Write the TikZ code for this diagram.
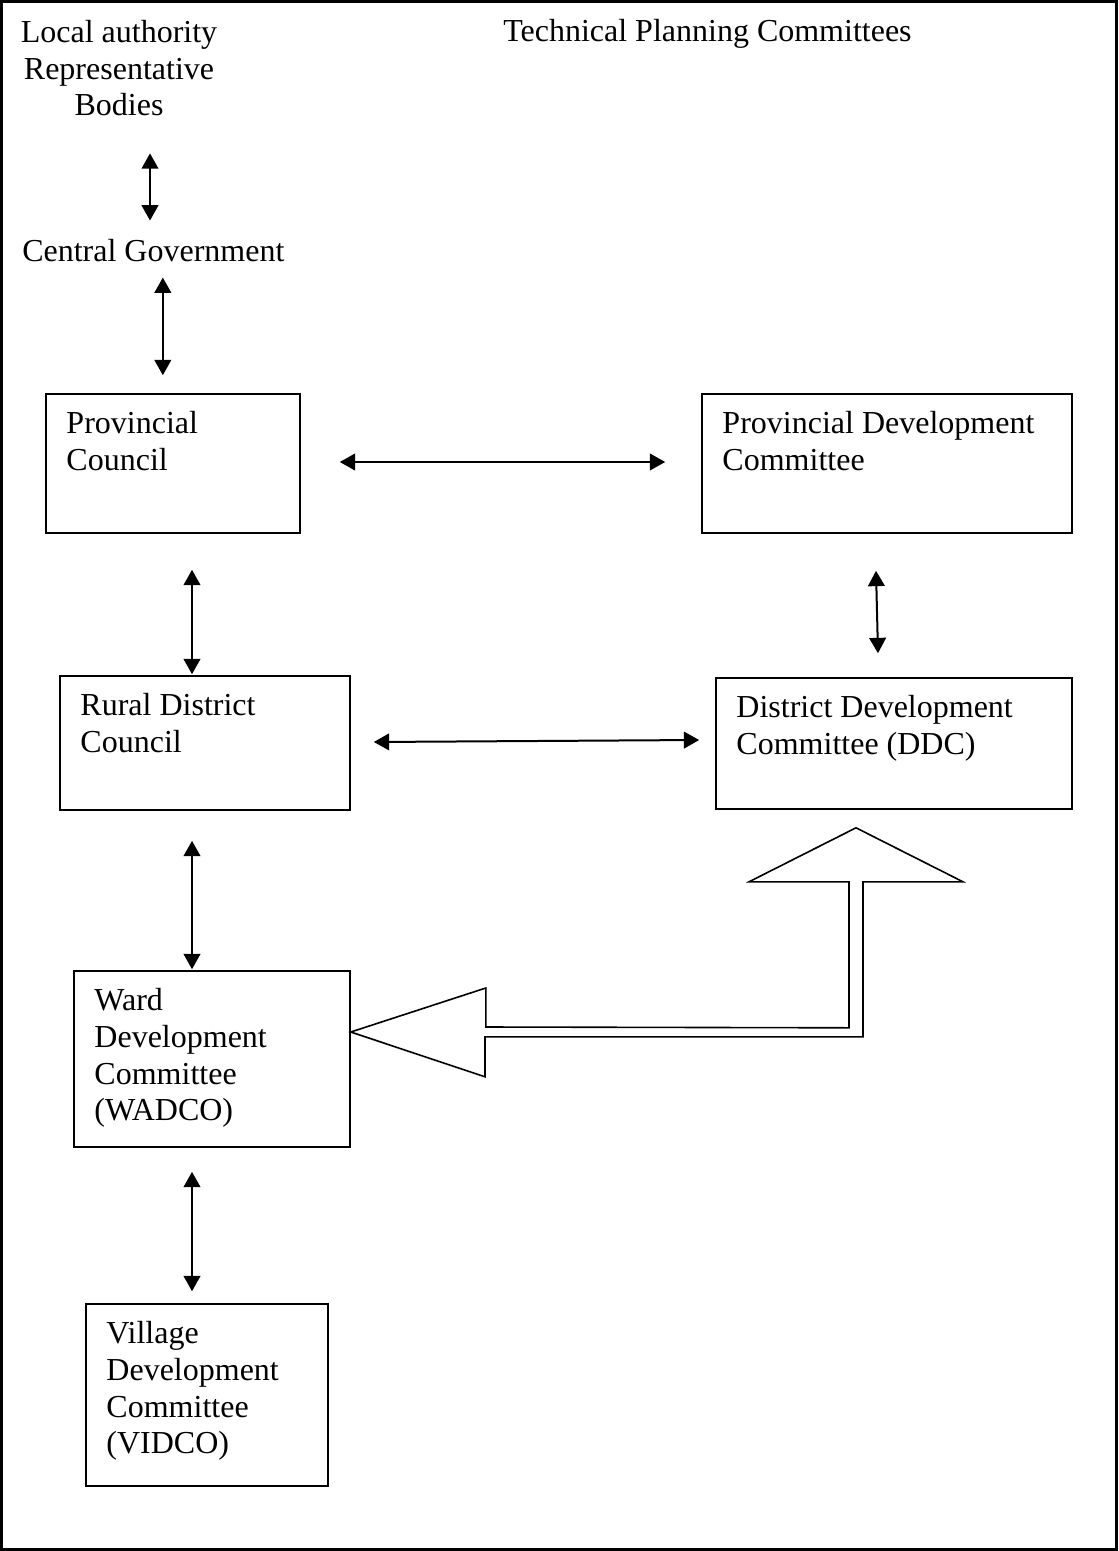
\documentclass[tikz,border=0pt]{standalone}
\usepackage{fontspec}
\setmainfont{Liberation Serif}
\usetikzlibrary{arrows.meta,calc}
\newcommand\txtfont{\fontsize{24}{27.5}\selectfont}
\begin{document}
\begin{tikzpicture}[x=0.75pt,y=-0.75pt,
  txt/.style={inner sep=0pt,font=\txtfont},
  box/.style={draw,line width=1.2pt,inner sep=0pt},
  lbl/.style={anchor=north west,inner sep=0pt,align=left,font=\txtfont,xshift=15.75pt,yshift=-13.5pt},
  link/.style={{Triangle[length=11.5pt,width=12.5pt]}-{Triangle[length=11.5pt,width=12.5pt]},line width=1.5pt},
  hollow/.style={line width=1.2pt,line join=miter}]
\useasboundingbox (0,0) rectangle (1118,1551);
\draw [line width=1.8pt] (1.5,1.5) rectangle (1116.5,1549.5);

\node [txt,anchor=north,align=center] (lab) at (119,20) {Local authority\\Representative\\Bodies};
\node [txt,anchor=base west] (tpc) at (503,42) {Technical Planning Committees};
\node [txt,anchor=base west] (cg) at (22,262) {Central Government};

\node [box,minimum width=190.5pt,minimum height=104.25pt,label={[lbl,name=pcl]north west:{Provincial\\Council}}] (pc) at (173,463.5) {};
\node [box,minimum width=277.5pt,minimum height=104.25pt,label={[lbl,name=pdcl]north west:{Provincial Development\\Committee}}] (pdc) at (887,463.5) {};
\node [box,minimum width=217.5pt,minimum height=100.5pt,label={[lbl,name=rdcl]north west:{Rural District\\Council}}] (rdc) at (205,743) {};
\node [box,minimum width=267pt,minimum height=98.25pt,label={[lbl,name=ddcl]north west:{District Development\\Committee (DDC)}}] (ddc) at (894,743.5) {};
\node [box,minimum width=207pt,minimum height=132pt,label={[lbl,name=wadcol]north west:{Ward\\Development\\Committee\\(WADCO)}}] (wadco) at (212,1059) {};
\node [box,minimum width=181.5pt,minimum height=136.5pt,label={[lbl,name=vidcol]north west:{Village\\Development\\Committee\\(VIDCO)}}] (vidco) at (207,1395) {};

\coordinate (a1) at ($(lab.south)+(31,37)$);
\coordinate (a2) at ($(cg.south)+(9.5,15)$);
\draw [link] (a1) -- ($(a1 |- cg.north)+(0,-19)$);
\draw [link] (a2) -- ($(a2 |- pc.north)+(0,-18)$);
\draw [link] ($(pc.east)+(39,-1.5)$) -- ($(pdc.west)+(-36,-1.5)$);
\draw [link] ($(pc.south)+(19,36)$) -- ($(rdc.north)+(-13,-1)$);
\draw [link] ($(pdc.south)+(-11,37)$) -- ($(ddc.north)+(-16,-24)$);
\draw [link] ($(rdc.east)+(23,-1)$) -- ($(ddc.west)+(-16,-3.5)$);
\draw [link] ($(rdc.south)+(-13,30)$) -- ($(wadco.north)+(-20,-1)$);
\draw [link] ($(wadco.south)+(-20,24)$) -- ($(vidco.north)+(-15,-12)$);

\coordinate (wtip) at ($(wadco.east)+(0,-27)$);
\coordinate (dtip) at ($(ddc.south)+(-38,18)$);
\draw [hollow] (wtip) -- ++(135,-44) -- ++(0,39) -- ($(dtip)+(-7,200)$) -- ++(0,-146) -- ++(-100,0)
  -- (dtip) -- ++(107,54) -- ++(-100,0) -- ++(0,155) -- ++(-378,0) -- ++(0,40) -- cycle;
\end{tikzpicture}
\end{document}
